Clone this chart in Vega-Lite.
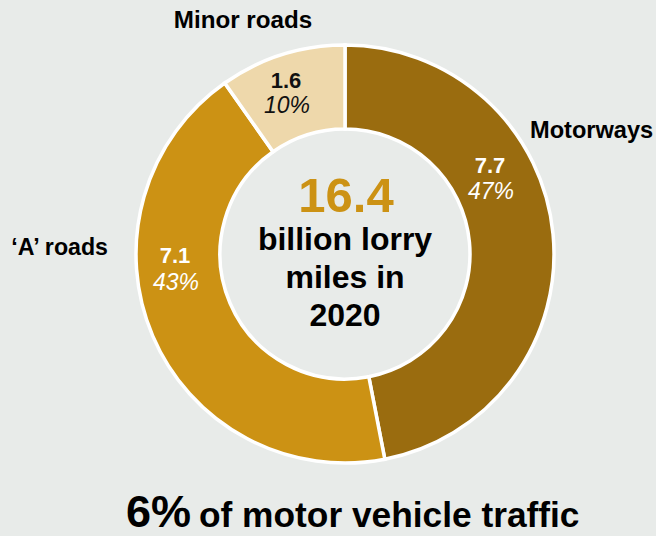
{
  "$schema": "https://vega.github.io/schema/vega-lite/v6.json",
  "width": 420,
  "height": 420,
  "autosize": {"type": "none"},
  "padding": {"left": 135, "top": 44, "right": 101, "bottom": 72},
  "background": "#e8ebe9",
  "config": {"view": {"stroke": null}, "text": {"font": "Liberation Sans"}},
  "data": {"values": [
    {"road": "Motorways", "rank": 1, "miles": 7.7, "label": "7.7", "pct": "47%"},
    {"road": "‘A’ roads", "rank": 2, "miles": 7.1, "label": "7.1", "pct": "43%"},
    {"road": "Minor roads", "rank": 3, "miles": 1.6, "label": "1.6", "pct": "10%"}
  ]},
  "layer": [
    {
      "mark": {"type": "arc", "outerRadius": 209, "innerRadius": 125, "stroke": "white", "strokeWidth": 3.5},
      "encoding": {
        "theta": {"field": "miles", "type": "quantitative", "stack": true},
        "order": {"field": "rank", "type": "quantitative"},
        "color": {"field": "road", "type": "nominal", "legend": null,
          "scale": {"domain": ["Motorways", "‘A’ roads", "Minor roads"], "range": ["#9a6c0f", "#cc9214", "#eed8ab"]}}
      }
    },
    {
      "transform": [{"filter": "datum.rank == 1"}],
      "mark": {"type": "text", "fontSize": 23.6, "fontWeight": "bold", "color": "#000000", "align": "left", "baseline": "alphabetic", "dx": 185, "dy": -116},
      "encoding": {"text": {"field": "road"}}
    },
    {
      "transform": [{"filter": "datum.rank == 2"}],
      "mark": {"type": "text", "fontSize": 23.2, "fontWeight": "bold", "color": "#000000", "align": "right", "baseline": "alphabetic", "dx": -237, "dy": 1},
      "encoding": {"text": {"field": "road"}}
    },
    {
      "transform": [{"filter": "datum.rank == 3"}],
      "mark": {"type": "text", "fontSize": 24.2, "fontWeight": "bold", "color": "#000000", "align": "center", "baseline": "alphabetic", "dx": -102, "dy": -226},
      "encoding": {"text": {"field": "road"}}
    },
    {
      "transform": [{"filter": "datum.rank == 1"}],
      "mark": {"type": "text", "fontSize": 22, "fontWeight": "bold", "color": "#ffffff", "align": "center", "baseline": "alphabetic", "dx": 145, "dy": -81},
      "encoding": {"text": {"field": "label"}}
    },
    {
      "transform": [{"filter": "datum.rank == 1"}],
      "mark": {"type": "text", "fontSize": 23, "fontStyle": "italic", "color": "#ffffff", "align": "center", "baseline": "alphabetic", "dx": 146, "dy": -55},
      "encoding": {"text": {"field": "pct"}}
    },
    {
      "transform": [{"filter": "datum.rank == 2"}],
      "mark": {"type": "text", "fontSize": 22, "fontWeight": "bold", "color": "#ffffff", "align": "center", "baseline": "alphabetic", "dx": -170, "dy": 9},
      "encoding": {"text": {"field": "label"}}
    },
    {
      "transform": [{"filter": "datum.rank == 2"}],
      "mark": {"type": "text", "fontSize": 23, "fontStyle": "italic", "color": "#ffffff", "align": "center", "baseline": "alphabetic", "dx": -169, "dy": 36},
      "encoding": {"text": {"field": "pct"}}
    },
    {
      "transform": [{"filter": "datum.rank == 3"}],
      "mark": {"type": "text", "fontSize": 22, "fontWeight": "bold", "color": "#111111", "align": "center", "baseline": "alphabetic", "dx": -59, "dy": -166},
      "encoding": {"text": {"field": "label"}}
    },
    {
      "transform": [{"filter": "datum.rank == 3"}],
      "mark": {"type": "text", "fontSize": 23, "fontStyle": "italic", "color": "#111111", "align": "center", "baseline": "alphabetic", "dx": -58, "dy": -141},
      "encoding": {"text": {"field": "pct"}}
    },
    {
      "transform": [{"aggregate": [{"op": "sum", "field": "miles", "as": "total"}]}],
      "mark": {"type": "text", "fontSize": 49, "fontWeight": "bold", "color": "#cc9214", "align": "center", "baseline": "alphabetic", "dx": 1, "dy": -42},
      "encoding": {"text": {"field": "total", "type": "quantitative", "format": ".1f"}}
    },
    {
      "transform": [{"aggregate": [{"op": "count", "as": "n"}]}],
      "mark": {"type": "text", "fontSize": 32, "fontWeight": "bold", "color": "#000000", "align": "center", "baseline": "alphabetic", "lineHeight": 38, "dx": 0, "dy": -4,
        "text": ["billion lorry", "miles in", "2020"]},
      "encoding": {}
    },
    {
      "transform": [{"aggregate": [{"op": "count", "as": "n"}]}],
      "mark": {"type": "text", "fontSize": 45, "fontWeight": "bold", "color": "#000000", "align": "left", "baseline": "alphabetic", "dx": -219, "dy": 273, "text": "6%"},
      "encoding": {}
    },
    {
      "transform": [{"aggregate": [{"op": "count", "as": "n"}]}],
      "mark": {"type": "text", "fontSize": 35.3, "fontWeight": "bold", "color": "#000000", "align": "left", "baseline": "alphabetic", "dx": -146, "dy": 273, "text": "of motor vehicle traffic"},
      "encoding": {}
    }
  ]
}
